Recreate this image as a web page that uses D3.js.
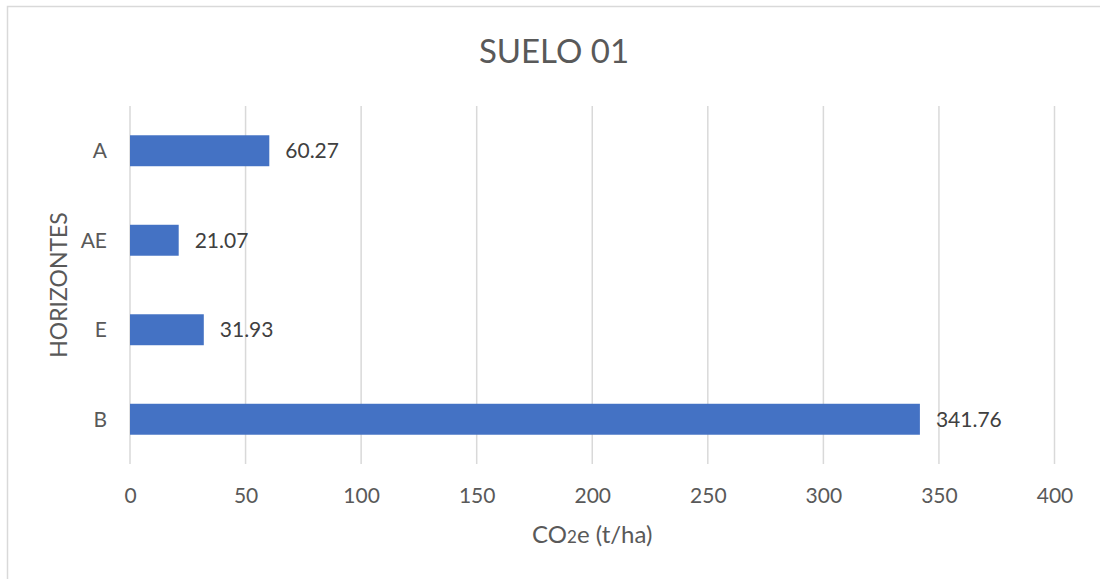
<!DOCTYPE html>
<html><head><meta charset="utf-8">
<script src="https://cdn.jsdelivr.net/npm/d3@7"></script>
<style>html,body{margin:0;padding:0;background:#fff;overflow:hidden}</style>
</head><body>
<svg id="c" width="1100" height="579"></svg>
<script>
const categories = ["A", "AE", "E", "B"];
const values = [60.27, 21.07, 31.93, 341.76];
const xTicks = [0, 50, 100, 150, 200, 250, 300, 350, 400];
const title = "SUELO 01";
const yTitle = "HORIZONTES";

const svg = d3.select("#c");
const font = "Lato, 'Open Sans', sans-serif";
const m = {left: 130, right: 1054.5, top: 106, bottom: 464};

svg.append("rect").attr("x", 7.5).attr("y", 6.5).attr("width", 1200).attr("height", 700)
  .attr("fill", "#fff").attr("stroke", "#d9d9d9").attr("stroke-width", 1.5);

const x = d3.scaleLinear().domain([0, 400]).range([m.left, m.right]);
const y = d3.scaleBand().domain(categories).range([m.top, m.bottom]).paddingInner(0.654).paddingOuter(0.327);

// gridlines
svg.append("g").selectAll("line").data(xTicks).join("line")
  .attr("x1", d => x(d)).attr("x2", d => x(d))
  .attr("y1", m.top).attr("y2", m.bottom)
  .attr("stroke", "#d9d9d9").attr("stroke-width", 1.5);

// bars
svg.append("g").selectAll("rect").data(categories).join("rect")
  .attr("x", x(0)).attr("y", d => y(d))
  .attr("width", (d, i) => x(values[i]) - x(0))
  .attr("height", y.bandwidth())
  .attr("fill", "#4472c4");

// data labels
svg.append("g").selectAll("text").data(categories).join("text")
  .attr("x", (d, i) => x(values[i]) + 16)
  .attr("y", d => y(d) + y.bandwidth() / 2)
  .attr("dy", "0.36em")
  .attr("font-family", font).attr("font-size", 21).attr("fill", "#404040")
  .text((d, i) => values[i].toFixed(2));

// x axis
const xAxis = d3.axisBottom(x).tickValues(xTicks).tickSize(0).tickPadding(0);
const gx = svg.append("g").attr("transform", `translate(0,${m.bottom})`).call(xAxis);
gx.select(".domain").remove();
gx.selectAll("text").attr("y", 31).attr("dy", "0.36em")
  .attr("font-family", font).attr("font-size", 21).attr("fill", "#595959");

// y axis
const yAxis = d3.axisLeft(y).tickSize(0).tickPadding(0);
const gy = svg.append("g").attr("transform", `translate(${m.left},0)`).call(yAxis);
gy.select(".domain").remove();
gy.selectAll("text").attr("x", -23).attr("dy", "0.36em")
  .attr("font-family", font).attr("font-size", 21).attr("fill", "#595959");

// title
svg.append("text").attr("x", 554).attr("y", 63)
  .attr("text-anchor", "middle").attr("font-family", font).attr("font-size", 33)
  .attr("fill", "#595959").text(title);

// x axis title
const xt = svg.append("text").attr("x", (m.left + m.right) / 2).attr("y", 543)
  .attr("text-anchor", "middle").attr("font-family", font).attr("font-size", 24)
  .attr("fill", "#595959");
xt.append("tspan").text("CO");
xt.append("tspan").attr("font-size", 17).text("2");
xt.append("tspan").text("e (t/ha)");

// y axis title
svg.append("text").attr("transform", `translate(67,${(m.top + m.bottom) / 2}) rotate(-90)`)
  .attr("text-anchor", "middle").attr("font-family", font).attr("font-size", 23)
  .attr("fill", "#595959").text(yTitle);
</script>
</body></html>
